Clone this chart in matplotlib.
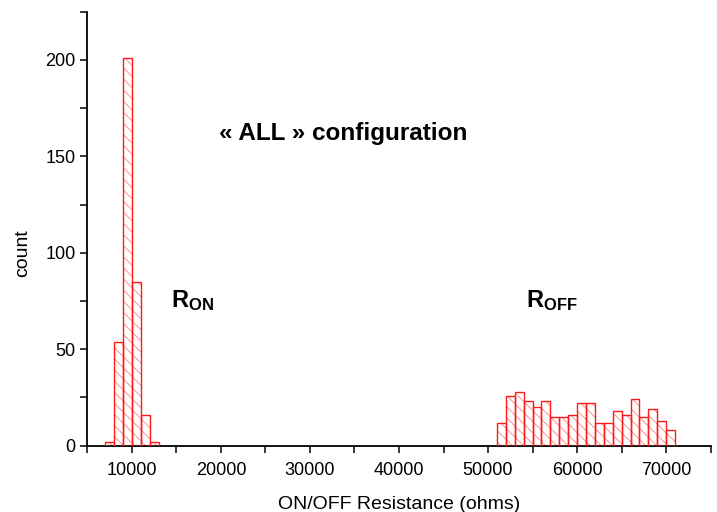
import numpy as np
import matplotlib
matplotlib.use("Agg")
import matplotlib.pyplot as plt
from matplotlib.ticker import MultipleLocator

plt.rcParams['font.family'] = ['Liberation Sans', 'DejaVu Sans']
plt.rcParams['mathtext.fontset'] = 'custom'
plt.rcParams['mathtext.rm'] = 'Liberation Sans'
plt.rcParams['mathtext.bf'] = 'Liberation Sans:bold'
plt.rcParams['hatch.linewidth'] = 0.6

# histogram bins (left edges, ohms) and counts
bin_width = 1000
on_left = [7000, 8000, 9000, 10000, 11000, 12000]
on_count = [2, 54, 201, 85, 16, 2]

off_left = list(range(51000, 71000, 1000))
off_count = [12, 26, 28, 23, 20, 23, 15, 15, 16, 22,
             22, 12, 12, 18, 16, 24, 15, 19, 13, 8]

fig = plt.figure(figsize=(7.17, 5.12), dpi=100)
ax = fig.add_axes([0.1218, 0.1295, 0.8694, 0.8475])

for left, cnt in ((on_left, on_count), (off_left, off_count)):
    # hatch in lighter red, outline in solid red
    ax.bar(left, cnt, width=bin_width, align='edge', color='none',
           edgecolor='#ff8080', hatch='\\\\\\', linewidth=0, zorder=2)
    ax.bar(left, cnt, width=bin_width, align='edge', color='none',
           edgecolor='#ff1a1a', linewidth=1.0, zorder=3)

ax.set_xlim(5000, 75000)
ax.set_ylim(0, 225)
ax.xaxis.set_major_locator(MultipleLocator(10000))
ax.xaxis.set_minor_locator(MultipleLocator(5000))
ax.yaxis.set_major_locator(MultipleLocator(50))
ax.yaxis.set_minor_locator(MultipleLocator(25))
ax.tick_params(axis='both', which='both', direction='out', length=5, width=1.1,
               labelsize=13)
ax.tick_params(axis='x', pad=7)

for s in ['top', 'right']:
    ax.spines[s].set_visible(False)
for s in ['left', 'bottom']:
    ax.spines[s].set_linewidth(1.3)

ax.set_xlabel('ON/OFF Resistance (ohms)', fontsize=14)
ax.xaxis.set_label_coords(0.5, -0.115)
ax.set_ylabel('count', fontsize=14)
ax.yaxis.set_label_coords(-0.09, 100 / 225)

ax.text(19800, 158.5, '« ALL » configuration', fontsize=17.5, fontweight='bold')
ax.text(14400, 72, r'$\mathbf{R_{ON}}$', fontsize=17)
ax.text(54300, 72, r'$\mathbf{R_{OFF}}$', fontsize=17)

fig.savefig('out.png', dpi=100)
